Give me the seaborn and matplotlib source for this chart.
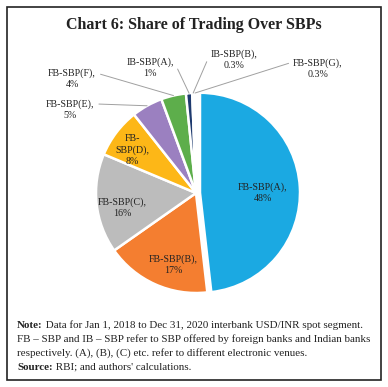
import numpy as np
import seaborn as sns
import matplotlib.pyplot as plt
from matplotlib.patches import Rectangle

sns.set_theme(style='white')
plt.rcParams['font.family'] = ['Liberation Serif', 'DejaVu Serif']

# Dados
labels = ['FB-SBP(A)', 'FB-SBP(B)', 'FB-SBP(C)', 'FB-SBP(D)', 'FB-SBP(E)',
          'FB-SBP(F)', 'IB-SBP(A)', 'IB-SBP(B)', 'FB-SBP(G)']
shares = [48, 17, 16, 8, 5, 4, 1, 0.3, 0.3]
share_text = ['48%', '17%', '16%', '8%', '5%', '4%', '1%', '0.3%', '0.3%']
colors = ['#1BA9E2', '#F47E30', '#BCBCBC', '#FDB717', '#9B80C0',
          '#5DAE4B', '#1E3A6E', '#A9C8E8', '#DADADA']

fig = plt.figure(figsize=(3.88, 3.87), dpi=100)

# centro da pizza em pixels, raio
cx, cy, r = 196, 193, 100
W, H = 388, 387
ax = fig.add_axes([(cx - r) / W, 1 - (cy + r) / H, 2 * r / W, 2 * r / H])
explode = [0.04] + [0.0] * 8
wedges, _ = ax.pie(shares, colors=colors, startangle=90, counterclock=False,
                   explode=explode, radius=1,
                   wedgeprops=dict(edgecolor='white', linewidth=1.8))
ax.set_xlim(-1, 1)
ax.set_ylim(-1, 1)
ax.set_aspect('auto')
ax.axis('off')

def px(x, y):
    return ((x - cx) / r, (cy - y) / r)

tc = '#222222'
fs = 7.2

# rótulos internos
inner = {0: ('FB-SBP(A),\n48%', 263, 193),
         1: ('FB-SBP(B),\n17%', 173, 265),
         2: ('FB-SBP(C),\n16%', 122, 208),
         3: ('FB-\nSBP(D),\n8%', 132, 150)}
for i, (t, x, y) in inner.items():
    ax.text(*px(x, y), t, ha='center', va='center', fontsize=fs, color=tc,
            linespacing=1.25)

# rótulos externos com linhas de chamada
outer = {4: (70, 110, (1.0, 0.8)),
         5: (72, 79, (1.0, 0.8)),
         6: (150, 68, (1.0, 0.85)),
         7: (234, 60, (0.0, 0.85)),
         8: (318, 69, (0.0, 0.85))}
for i, (x, y, rp) in outer.items():
    w = wedges[i]
    ang = np.deg2rad((w.theta1 + w.theta2) / 2)
    tip = (np.cos(ang) * 1.0, np.sin(ang) * 1.0)
    ax.annotate(labels[i] + ',\n' + share_text[i], xy=tip, xytext=px(x, y),
                ha='center', va='center', fontsize=fs, color=tc,
                linespacing=1.25, annotation_clip=False,
                arrowprops=dict(arrowstyle='-', color='#A0A0A0', lw=0.7,
                                relpos=rp, shrinkA=1, shrinkB=0))

# título
fig.text(0.5, 1 - 25 / H, 'Chart 6: Share of Trading Over SBPs', ha='center',
         va='center', fontsize=11.5, fontweight='bold', color=tc)

# notas
nfs = 7.95
x0 = 17 / W
n1 = fig.text(x0, 1 - 328 / H, 'Note:', fontsize=nfs, fontweight='bold',
              color=tc, va='baseline')
ax.annotate(' Data for Jan 1, 2018 to Dec 31, 2020 interbank USD/INR spot segment.',
            xy=(1, 0), xycoords=n1, va='bottom', fontsize=nfs, color=tc)
fig.text(x0, 1 - 342 / H,
         'FB \u2013 SBP and IB \u2013 SBP refer to SBP offered by foreign banks and Indian banks',
         fontsize=nfs, color=tc, va='baseline')
fig.text(x0, 1 - 356 / H,
         'respectively. (A), (B), (C) etc. refer to different electronic venues.',
         fontsize=nfs, color=tc, va='baseline')
n4 = fig.text(x0, 1 - 370 / H, 'Source:', fontsize=nfs, fontweight='bold',
              color=tc, va='baseline')
ax.annotate(" RBI; and authors' calculations.", xy=(1, 0), xycoords=n4,
            va='bottom', fontsize=nfs, color=tc)

# moldura
fig.patches.append(Rectangle((7 / W, 1 - 380 / H), 374 / W, 373 / H,
                             transform=fig.transFigure, fill=False,
                             edgecolor='#222222', linewidth=1.2))

fig.savefig('out.png', dpi=100)
